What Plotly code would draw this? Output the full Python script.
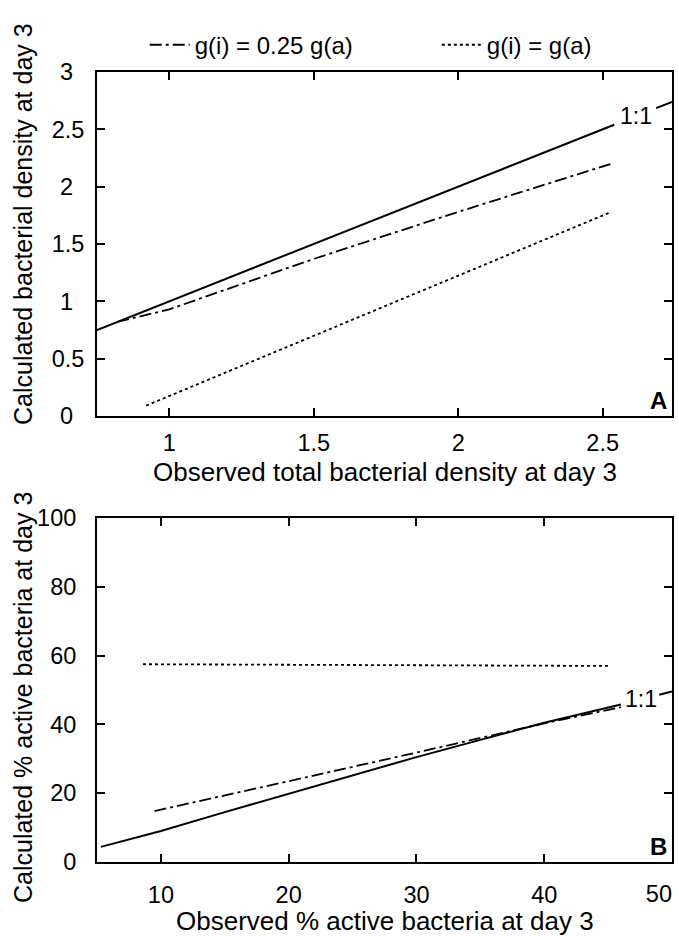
import plotly.graph_objects as go

# ---- Panel A data ----
a_one_x = [0.75, 2.54, None, 2.685, 2.74]
a_one_y = [0.75, 2.54, None, 2.685, 2.74]
a_q_x = [0.82, 1.0, 1.5, 2.0, 2.53]          # g(i) = 0.25 g(a)
a_q_y = [0.82, 0.93, 1.37, 1.78, 2.20]
a_e_x = [0.92, 2.53]                          # g(i) = g(a)
a_e_y = [0.09, 1.78]

# ---- Panel B data ----
b_one_x = [5.3, 10, 15, 20, 25, 30, 35, 40, 46, None, 49.0, 50.0]
b_one_y = [4.4, 9.0, 14.5, 19.8, 25.0, 30.5, 35.5, 40.5, 45.8, None, 48.6, 49.6]
b_q_x = [9.5, 20, 30, 40, 46]
b_q_y = [14.8, 23.5, 31.8, 40.3, 45.0]
b_e_x = [8.6, 45.2]
b_e_y = [57.5, 57.0]

a_xticks = [1, 1.5, 2, 2.5]
a_xlabels = ["1", "1.5", "2", "2.5"]
a_yticks = [0, 0.5, 1, 1.5, 2, 2.5, 3]
a_ylabels = ["0", "0.5", "1", "1.5", "2", "2.5", "3"]
b_xticks = [10, 20, 30, 40, 50]
b_xlabels = ["10", "20", "30", "40", "50"]
b_yticks = [0, 20, 40, 60, 80, 100]

FONT = "Liberation Sans, Arial, sans-serif"
DASHDOT = "12px,4px,3px,4px"
DOT = "3px,3px"
PAD = "\u00a0\u2009"  # centres single-digit labels against "x.5" labels

fig = go.Figure()
# Panel A
fig.add_trace(go.Scatter(x=a_one_x, y=a_one_y, mode="lines", line=dict(color="black", width=2),
                         showlegend=False, xaxis="x", yaxis="y"))
fig.add_trace(go.Scatter(x=a_q_x, y=a_q_y, mode="lines", name="g(i) = 0.25 g(a)", legend="legend",
                         line=dict(color="black", width=1.8, dash=DASHDOT), xaxis="x", yaxis="y"))
fig.add_trace(go.Scatter(x=a_e_x, y=a_e_y, mode="lines", name="g(i) = g(a)", legend="legend2",
                         line=dict(color="black", width=1.8, dash=DOT), xaxis="x", yaxis="y"))
# Panel B
fig.add_trace(go.Scatter(x=b_one_x, y=b_one_y, mode="lines", line=dict(color="black", width=2),
                         showlegend=False, xaxis="x2", yaxis="y2"))
fig.add_trace(go.Scatter(x=b_q_x, y=b_q_y, mode="lines", showlegend=False,
                         line=dict(color="black", width=1.8, dash=DASHDOT), xaxis="x2", yaxis="y2"))
fig.add_trace(go.Scatter(x=b_e_x, y=b_e_y, mode="lines", showlegend=False,
                         line=dict(color="black", width=1.8, dash=DOT), xaxis="x2", yaxis="y2"))
# empty trace so the overlay axis carrying the last (edge) tick label is drawn
fig.add_trace(go.Scatter(x=[], y=[], mode="lines", showlegend=False, hoverinfo="skip",
                         xaxis="x3", yaxis="y2"))

TICKFONT = dict(family=FONT, size=23.5, color="black")
axis_common = dict(showline=True, linecolor="black", linewidth=2, mirror="ticks",
                   ticks="inside", ticklen=8, tickwidth=2, tickcolor="black",
                   showgrid=False, zeroline=False, automargin=False, tickfont=TICKFONT)

a_ytext = [t + PAD if len(t) == 1 else t for t in a_ylabels]
b_xtext = b_xlabels[:-1] + [""]

LEG_FONT = dict(family=FONT, size=24, color="black")
fig.update_layout(
    width=679, height=936,
    margin=dict(l=97, r=7, t=72, b=74, autoexpand=False),
    paper_bgcolor="white", plot_bgcolor="white",
    font=dict(family=FONT, color="black"),
    xaxis=dict(domain=[0, 1], range=[0.75, 2.74], tickvals=a_xticks, ticktext=a_xlabels,
               anchor="y", ticklabelstandoff=5, **axis_common),
    yaxis=dict(domain=[0.5646, 1], range=[0, 3], tickvals=a_yticks, ticktext=a_ytext,
               anchor="x", ticklabelstandoff=6, **axis_common),
    xaxis2=dict(domain=[0, 1], range=[5, 50], tickvals=b_xticks, ticktext=b_xtext, anchor="y2",
                ticklabelstandoff=11, **axis_common),
    xaxis3=dict(overlaying="x2", anchor="y2", side="bottom", range=[5, 50],
                tickvals=b_xticks[-1:], ticktext=b_xlabels[-1:], ticks="", showline=False,
                showgrid=False, zeroline=False, automargin=False,
                ticklabelposition="outside left", ticklabelstandoff=15, tickfont=TICKFONT),
    yaxis2=dict(domain=[0, 0.4354], range=[0, 100], tickvals=b_yticks, anchor="x2",
                ticklabelstandoff=14, **axis_common),
    legend=dict(orientation="h", x=0.083, y=1.034, xanchor="left", yanchor="middle",
                font=LEG_FONT, itemwidth=40, bgcolor="rgba(0,0,0,0)"),
    legend2=dict(orientation="h", x=0.591, y=1.034, xanchor="left", yanchor="middle",
                 font=LEG_FONT, itemwidth=40, bgcolor="rgba(0,0,0,0)"),
    showlegend=True,
)

TITLE = dict(family=FONT, size=26, color="black")
YTITLE = dict(family=FONT, size=25, color="black")
annotations = [
    dict(text="Observed total bacterial density at day 3", xref="paper", yref="paper",
         x=0.5, y=0.5646, yshift=-56, xanchor="center", yanchor="middle", showarrow=False,
         font=TITLE),
    dict(text="Observed % active bacteria at day 3", xref="paper", yref="paper",
         x=0.5, y=0, yshift=-59, xanchor="center", yanchor="middle", showarrow=False,
         font=TITLE),
    dict(text="Calculated bacterial density at day 3", xref="paper", yref="paper",
         x=0, y=(0.5646 + 1) / 2, xshift=-74, yshift=20, textangle=-90, xanchor="center",
         yanchor="middle", showarrow=False, font=YTITLE),
    dict(text="Calculated % active bacteria at day 3", xref="paper", yref="paper",
         x=0, y=0.4354 / 2, xshift=-74, yshift=-8, textangle=-90, xanchor="center",
         yanchor="middle", showarrow=False, font=YTITLE),
    dict(text="1:1", xref="x", yref="y", x=2.615, y=2.615, showarrow=False,
         font=dict(family=FONT, size=23, color="black")),
    dict(text="1:1", xref="x2", yref="y2", x=47.6, y=47.3, showarrow=False,
         font=dict(family=FONT, size=23, color="black")),
    dict(text="<b>A</b>", xref="x domain", yref="y domain", x=0.995, y=0.0, xanchor="right",
         yanchor="bottom", showarrow=False, font=dict(family=FONT, size=24, color="black")),
    dict(text="<b>B</b>", xref="x2 domain", yref="y2 domain", x=0.995, y=0.0, xanchor="right",
         yanchor="bottom", showarrow=False, font=dict(family=FONT, size=24, color="black")),
]
fig.update_layout(annotations=annotations)

fig.write_html("out.html")
